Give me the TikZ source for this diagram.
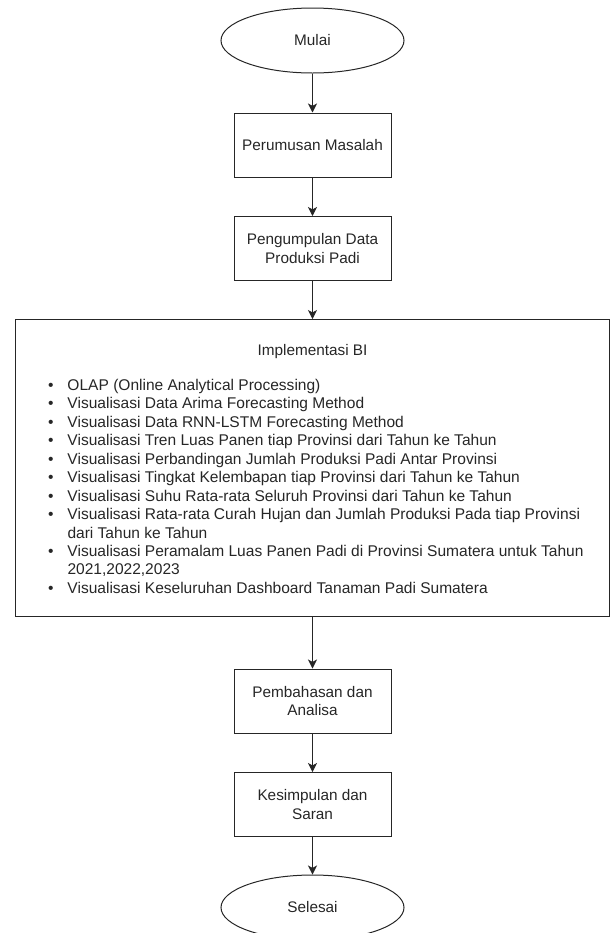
\documentclass[tikz,border=0pt]{standalone}
\usepackage{fontspec}
\setmainfont{Liberation Sans}
\usetikzlibrary{shapes.geometric,arrows.meta}

\tikzset{every picture/.style={line width=0.75pt}}
\tikzset{
  term/.style={ellipse,draw=black!85,inner sep=0pt,minimum width=137.25pt,minimum height=48.75pt,font=\fontsize{11.5pt}{13.8pt}\selectfont,text=black!85},
  procbox/.style={rectangle,draw=black!85,inner sep=0pt,minimum width=117.75pt,minimum height=48pt,align=center,font=\fontsize{11.5pt}{13.8pt}\selectfont,text=black!85},
  listtxt/.style={anchor=base west,inner sep=0pt,font=\fontsize{11.65pt}{13.8pt}\selectfont,text=black!85},
  arr/.style={draw=black!85,-{Stealth[length=6.75pt,width=6.75pt,inset=1.8pt]}}
}
\newcommand{\blt}{\makebox[14.625pt][l]{\textbullet}}

\begin{document}
\begin{tikzpicture}[x=0.75pt,y=0.75pt,yscale=-1,xscale=1]
\useasboundingbox (0,0) rectangle (610,933);
\clip (0,0) rectangle (610,933);

%Shape: Ellipse [id:mulai]
\node [term] (mulai) at (312.5,40.5) {Mulai};
%Shape: Rectangle [id:rumus]
\node [procbox] (rumus) at (312.5,145) {Perumusan Masalah};
%Shape: Rectangle [id:kumpul]
\node [procbox] (kumpul) at (312.5,248.5) {Pengumpulan Data\\Produksi Padi};
%Shape: Rectangle [id:impl]
\node [rectangle,draw=black!85,inner sep=0pt,minimum width=445.5pt,minimum height=223.1pt] (impl) at (312.5,468.25) {};
%Shape: Rectangle [id:bahas]
\node [procbox] (bahas) at (312.5,701) {Pembahasan dan\\Analisa};
%Shape: Rectangle [id:simpul]
\node [procbox] (simpul) at (312.5,804.5) {Kesimpulan dan\\Saran};
%Shape: Ellipse [id:selesai]
\node [term] (selesai) at (312.5,907.5) {Selesai};

%Straight Lines
\draw [arr] (mulai) -- (rumus);
\draw [arr] (rumus) -- (kumpul);
\draw [arr] (kumpul) -- (impl);
\draw [arr] (impl) -- (bahas);
\draw [arr] (bahas) -- (simpul);
\draw [arr] (simpul) -- (selesai);

% Text Node
\node [anchor=base,inner sep=0pt,font=\fontsize{11.5pt}{13.8pt}\selectfont,text=black!85] (judul) at (312.5,355.4) {Implementasi BI};
% Text Node
\node [listtxt] (l1) at (47.5,390.4) {\blt OLAP (Online Analytical Processing)};
% Text Node
\node [listtxt] (l2) at (47.5,408.85) {\blt Visualisasi Data Arima Forecasting Method};
% Text Node
\node [listtxt] (l3) at (47.5,427.3) {\blt Visualisasi Data RNN-LSTM Forecasting Method};
% Text Node
\node [listtxt] (l4) at (47.5,445.75) {\blt Visualisasi Tren Luas Panen tiap Provinsi dari Tahun ke Tahun};
% Text Node
\node [listtxt] (l5) at (47.5,464.2) {\blt Visualisasi Perbandingan Jumlah Produksi Padi Antar Provinsi};
% Text Node
\node [listtxt] (l6) at (47.5,482.65) {\blt Visualisasi Tingkat Kelembapan tiap Provinsi dari Tahun ke Tahun};
% Text Node
\node [listtxt] (l7) at (47.5,501.1) {\blt Visualisasi Suhu Rata-rata Seluruh Provinsi dari Tahun ke Tahun};
% Text Node
\node [listtxt] (l8) at (47.5,519.55) {\blt Visualisasi Rata-rata Curah Hujan dan Jumlah Produksi Pada tiap Provinsi};
% Text Node
\node [listtxt] (l8b) at (67,538) {dari Tahun ke Tahun};
% Text Node
\node [listtxt] (l9) at (47.5,556.45) {\blt Visualisasi Peramalam Luas Panen Padi di Provinsi Sumatera untuk Tahun};
% Text Node
\node [listtxt] (l9b) at (67,574.9) {2021,2022,2023};
% Text Node
\node [listtxt] (l10) at (47.5,593.35) {\blt Visualisasi Keseluruhan Dashboard Tanaman Padi Sumatera};

\end{tikzpicture}
\end{document}
